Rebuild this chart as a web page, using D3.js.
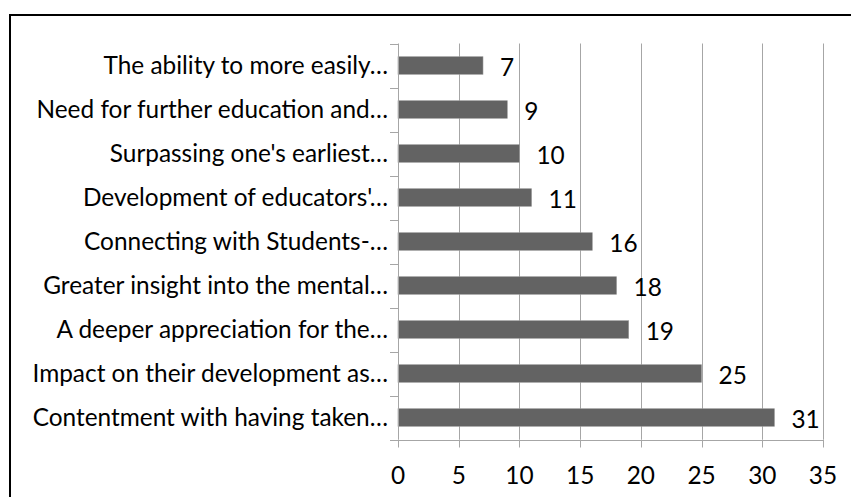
<!DOCTYPE html>
<html>
<head>
<meta charset="utf-8">
<script src="https://cdn.jsdelivr.net/npm/d3@7"></script>
<style>
  html, body { margin: 0; padding: 0; background: #fff; }
  svg { display: block; }
  text { font-family: Lato, "Open Sans", sans-serif; fill: #000; }
</style>
</head>
<body>
<div id="chart"></div>
<script>
var width = 851;
var height = 497;

// categories top to bottom, as printed
var categories = [
  "The ability to more easily…",
  "Need for further education and…",
  "Surpassing one's earliest…",
  "Development of educators'…",
  "Connecting with Students-…",
  "Greater insight into the mental…",
  "A deeper appreciation for the…",
  "Impact on their development as…",
  "Contentment with having taken…"
];
var counts = [7, 9, 10, 11, 16, 18, 19, 25, 31];
var xTicks = [0, 5, 10, 15, 20, 25, 30, 35];

var plot = { left: 398, right: 823, top: 43.5, bottom: 439.5 };
var gridColor = "#a6a6a6";
var barColor = "#636363";
var fontSize = 24.4;

var svg = d3
  .select("#chart")
  .append("svg")
  .attr("width", width)
  .attr("height", height);

// chart border (runs off the right and bottom edges)
svg
  .append("rect")
  .attr("x", 10)
  .attr("y", 15)
  .attr("width", 900)
  .attr("height", 560)
  .attr("fill", "none")
  .attr("stroke", "#000")
  .attr("stroke-width", 2);

var x = d3.scaleLinear().domain([0, 35]).range([plot.left, plot.right]);

var y = d3
  .scaleBand()
  .domain(categories)
  .range([plot.top, plot.bottom])
  .paddingInner(0.6)
  .paddingOuter(0.3);

var step = (plot.bottom - plot.top) / categories.length;

// vertical gridlines
svg
  .append("g")
  .selectAll("line")
  .data(xTicks.filter((d) => d > 0))
  .enter()
  .append("line")
  .attr("x1", (d) => Math.round(x(d)) + 0.5)
  .attr("x2", (d) => Math.round(x(d)) + 0.5)
  .attr("y1", plot.top)
  .attr("y2", plot.bottom)
  .attr("stroke", gridColor);

// bars
svg
  .append("g")
  .selectAll("rect")
  .data(counts)
  .enter()
  .append("rect")
  .attr("x", x(0))
  .attr("y", (d, i) => y(categories[i]))
  .attr("width", (d) => x(d) - x(0))
  .attr("height", y.bandwidth())
  .attr("fill", barColor)
  .attr("stroke", "#9a9a9a")
  .attr("stroke-width", 0.6);

// left axis line and category ticks
var left = svg.append("g");
left
  .append("line")
  .attr("x1", Math.round(plot.left) + 0.5)
  .attr("x2", Math.round(plot.left) + 0.5)
  .attr("y1", plot.top)
  .attr("y2", plot.bottom)
  .attr("stroke", gridColor);

left
  .selectAll(".ctick")
  .data(d3.range(categories.length + 1))
  .enter()
  .append("line")
  .attr("x1", plot.left - 8)
  .attr("x2", plot.left)
  .attr("y1", (i) => Math.round(plot.top + i * step) + 0.5)
  .attr("y2", (i) => Math.round(plot.top + i * step) + 0.5)
  .attr("stroke", gridColor);

left
  .selectAll("text")
  .data(categories)
  .enter()
  .append("text")
  .attr("x", plot.left - 10)
  .attr("y", (d) => y(d) + y.bandwidth() / 2)
  .attr("dy", "0.35em")
  .attr("text-anchor", "end")
  .style("font-size", fontSize + "px")
  .text((d) => d);

// bottom axis
var bottom = svg.append("g");
bottom
  .append("line")
  .attr("x1", plot.left)
  .attr("x2", plot.right)
  .attr("y1", Math.round(plot.bottom) + 0.5)
  .attr("y2", Math.round(plot.bottom) + 0.5)
  .attr("stroke", gridColor);

bottom
  .selectAll(".xtick")
  .data(xTicks)
  .enter()
  .append("line")
  .attr("x1", (d) => Math.round(x(d)) + 0.5)
  .attr("x2", (d) => Math.round(x(d)) + 0.5)
  .attr("y1", plot.bottom)
  .attr("y2", plot.bottom + 8)
  .attr("stroke", gridColor);

bottom
  .selectAll("text")
  .data(xTicks)
  .enter()
  .append("text")
  .attr("x", (d) => x(d))
  .attr("y", 475)
  .attr("dy", "0.35em")
  .attr("text-anchor", "middle")
  .style("font-size", fontSize + "px")
  .text((d) => d);

// value labels
svg
  .append("g")
  .selectAll("text")
  .data(counts)
  .enter()
  .append("text")
  .attr("x", (d) => x(d) + 17)
  .attr("y", (d, i) => y(categories[i]) + y.bandwidth() / 2 + 1.5)
  .attr("dy", "0.35em")
  .style("font-size", fontSize + "px")
  .text((d) => d);
</script>
</body>
</html>
